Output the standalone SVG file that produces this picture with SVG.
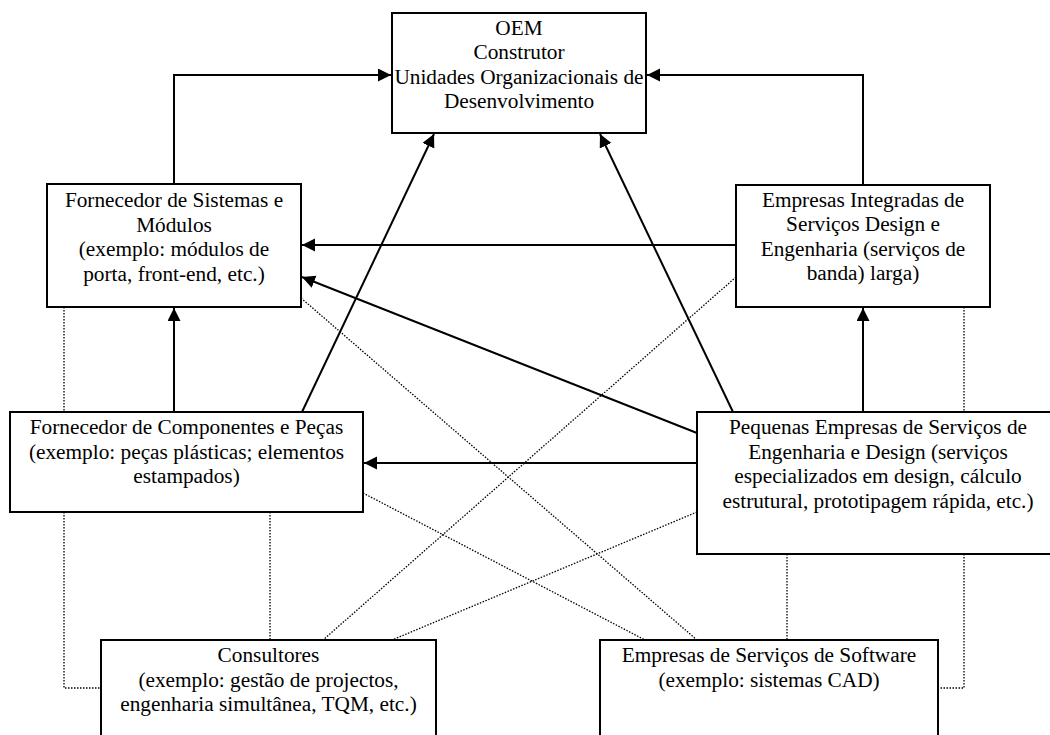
<svg xmlns="http://www.w3.org/2000/svg" width="1050" height="735" viewBox="0 0 1050 735">
  <style>
    .box { fill: #ffffff; stroke: #000000; stroke-width: 2; }
    .lbl { font-family: "Liberation Serif", "Times New Roman", serif; font-size: 21.3px; fill: #000000; text-anchor: middle; }
    .flow { fill: none; stroke: #000000; stroke-width: 2; marker-end: url(#head); }
    .link { fill: none; stroke: #000000; stroke-width: 1.3; stroke-dasharray: 1.5 1.5; }
  </style>
  <defs>
    <marker id="head" markerUnits="userSpaceOnUse" markerWidth="14" markerHeight="14" refX="13" refY="6.5" orient="auto">
      <path d="M0,0 L13,6.5 L0,13 z" fill="#000000"/>
    </marker>
  </defs>
  <rect width="1050" height="735" fill="#ffffff"/>

  <!-- connectors -->
  <g id="connectors">
    <!-- solid flows -->
    <polyline class="flow" points="174,184 174,75 391,75"/>
    <polyline class="flow" points="863,185 863,75 647,75"/>
    <line class="flow" x1="736" y1="245" x2="302" y2="245"/>
    <line class="flow" x1="697" y1="433" x2="302" y2="277"/>
    <line class="flow" x1="697" y1="463" x2="364" y2="463"/>
    <line class="flow" x1="863" y1="412" x2="863" y2="308"/>
    <line class="flow" x1="174" y1="412" x2="174" y2="308"/>
    <line class="flow" x1="302" y1="412" x2="434" y2="134"/>
    <line class="flow" x1="733" y1="412" x2="600" y2="134"/>
    <!-- dotted relations -->
    <line class="link" x1="64" y1="307" x2="64" y2="412"/>
    <polyline class="link" points="64,512 64,688 101,688"/>
    <line class="link" x1="270" y1="512" x2="270" y2="640"/>
    <line class="link" x1="964" y1="307" x2="964" y2="412"/>
    <polyline class="link" points="964,554 964,688 938,688"/>
    <line class="link" x1="787" y1="554" x2="787" y2="640"/>
    <line class="link" x1="301" y1="298" x2="697" y2="640"/>
    <line class="link" x1="363" y1="493" x2="645" y2="640"/>
    <line class="link" x1="736" y1="277" x2="323" y2="640"/>
    <line class="link" x1="697" y1="512" x2="392" y2="640"/>
  </g>

  <!-- nodes -->
  <g id="oem">
    <rect class="box" x="392" y="13" width="254" height="120"/>
    <text class="lbl" x="519" y="35">OEM</text>
    <text class="lbl" x="519" y="59.3">Construtor</text>
    <text class="lbl" x="519" y="83.6">Unidades Organizacionais de</text>
    <text class="lbl" x="519" y="107.9">Desenvolvimento</text>
  </g>

  <g id="fornecedor-sistemas">
    <rect class="box" x="47" y="184" width="254" height="123"/>
    <text class="lbl" x="174" y="207">Fornecedor de Sistemas e</text>
    <text class="lbl" x="174" y="231.5">Módulos</text>
    <text class="lbl" x="174" y="256">(exemplo: módulos de</text>
    <text class="lbl" x="174" y="280.5">porta, front-end, etc.)</text>
  </g>

  <g id="empresas-integradas">
    <rect class="box" x="736" y="185" width="254" height="122"/>
    <text class="lbl" x="863" y="206.5">Empresas Integradas de</text>
    <text class="lbl" x="863" y="231">Serviços Design e</text>
    <text class="lbl" x="863" y="255.5">Engenharia (serviços de</text>
    <text class="lbl" x="863" y="280">banda) larga)</text>
  </g>

  <g id="fornecedor-componentes">
    <rect class="box" x="10" y="412" width="353" height="100"/>
    <text class="lbl" x="186.5" y="434">Fornecedor de Componentes e Peças</text>
    <text class="lbl" x="186.5" y="458.5">(exemplo: peças plásticas; elementos</text>
    <text class="lbl" x="186.5" y="483">estampados)</text>
  </g>

  <g id="pequenas-empresas">
    <rect class="box" x="697" y="412" width="362" height="142"/>
    <text class="lbl" x="878" y="434">Pequenas Empresas de Serviços de</text>
    <text class="lbl" x="878" y="458.5">Engenharia e Design (serviços</text>
    <text class="lbl" x="878" y="483">especializados em design, cálculo</text>
    <text class="lbl" x="878" y="507.5">estrutural, prototipagem rápida, etc.)</text>
  </g>

  <g id="consultores">
    <rect class="box" x="101" y="640" width="335" height="110"/>
    <text class="lbl" x="268.5" y="662">Consultores</text>
    <text class="lbl" x="268.5" y="686.5">(exemplo: gestão de projectos,</text>
    <text class="lbl" x="268.5" y="711">engenharia simultânea, TQM, etc.)</text>
  </g>

  <g id="servicos-software">
    <rect class="box" x="600" y="640" width="338" height="110"/>
    <text class="lbl" x="769" y="662">Empresas de Serviços de Software</text>
    <text class="lbl" x="769" y="686.5">(exemplo: sistemas CAD)</text>
  </g>
</svg>
